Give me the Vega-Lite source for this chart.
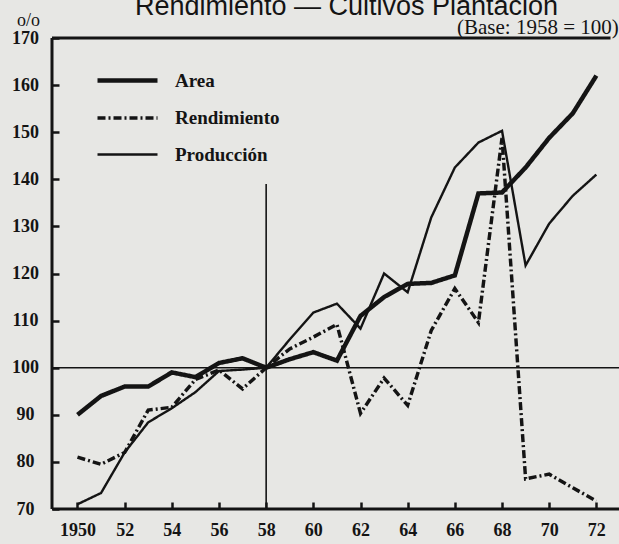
{
  "$schema": "https://vega.github.io/schema/vega-lite/v6.json",
  "width": 567,
  "height": 471,
  "autosize": "none",
  "padding": {"left": 52, "top": 38, "right": 0, "bottom": 35},
  "background": "#e7e7e4",
  "title": {
    "text": "Rendimiento — Cultivos Plantación",
    "font": "Liberation Sans",
    "fontSize": 27,
    "fontWeight": "normal",
    "color": "#141414",
    "anchor": "middle",
    "dx": 11,
    "offset": -10
  },
  "config": {
    "view": {"stroke": null},
    "axis": {
      "domain": false,
      "offset": -7,
      "ticks": true,
      "tickColor": "#141414",
      "tickWidth": 2.5,
      "tickSize": 7,
      "grid": false,
      "labelFont": "Liberation Serif",
      "labelFontWeight": "bold",
      "labelColor": "#141414",
      "labelFontSize": 18,
      "titleFont": "Liberation Serif",
      "titleColor": "#141414"
    },
    "legend": {
      "orient": "none",
      "legendX": 63,
      "legendY": 30,
      "symbolType": "M-3,0H3",
      "symbolSize": 400,
      "symbolStrokeColor": "#141414",
      "labelFont": "Liberation Serif",
      "labelFontSize": 19,
      "labelFontWeight": "bold",
      "labelColor": "#141414",
      "labelOffset": 35,
      "rowPadding": 15,
      "title": null
    }
  },
  "data": {
    "values": [
      {"year": 1950, "series": "Area", "value": 90},
      {"year": 1951, "series": "Area", "value": 94},
      {"year": 1952, "series": "Area", "value": 96},
      {"year": 1953, "series": "Area", "value": 96},
      {"year": 1954, "series": "Area", "value": 99},
      {"year": 1955, "series": "Area", "value": 98},
      {"year": 1956, "series": "Area", "value": 101},
      {"year": 1957, "series": "Area", "value": 102},
      {"year": 1958, "series": "Area", "value": 100},
      {"year": 1959, "series": "Area", "value": 101.8},
      {"year": 1960, "series": "Area", "value": 103.3},
      {"year": 1961, "series": "Area", "value": 101.5},
      {"year": 1962, "series": "Area", "value": 111},
      {"year": 1963, "series": "Area", "value": 115},
      {"year": 1964, "series": "Area", "value": 117.8},
      {"year": 1965, "series": "Area", "value": 118},
      {"year": 1966, "series": "Area", "value": 119.6},
      {"year": 1967, "series": "Area", "value": 137},
      {"year": 1968, "series": "Area", "value": 137.2},
      {"year": 1969, "series": "Area", "value": 142.5},
      {"year": 1970, "series": "Area", "value": 148.8},
      {"year": 1971, "series": "Area", "value": 154},
      {"year": 1972, "series": "Area", "value": 162},
      {"year": 1950, "series": "Rendimiento", "value": 81},
      {"year": 1951, "series": "Rendimiento", "value": 79.5},
      {"year": 1952, "series": "Rendimiento", "value": 82},
      {"year": 1953, "series": "Rendimiento", "value": 91},
      {"year": 1954, "series": "Rendimiento", "value": 91.6},
      {"year": 1955, "series": "Rendimiento", "value": 97.5},
      {"year": 1956, "series": "Rendimiento", "value": 99.5},
      {"year": 1957, "series": "Rendimiento", "value": 95.5},
      {"year": 1958, "series": "Rendimiento", "value": 100},
      {"year": 1959, "series": "Rendimiento", "value": 104},
      {"year": 1960, "series": "Rendimiento", "value": 106.5},
      {"year": 1961, "series": "Rendimiento", "value": 109.2},
      {"year": 1962, "series": "Rendimiento", "value": 90.3},
      {"year": 1963, "series": "Rendimiento", "value": 97.8},
      {"year": 1964, "series": "Rendimiento", "value": 92},
      {"year": 1965, "series": "Rendimiento", "value": 107.9},
      {"year": 1966, "series": "Rendimiento", "value": 116.8},
      {"year": 1967, "series": "Rendimiento", "value": 109.6},
      {"year": 1968, "series": "Rendimiento", "value": 148.8},
      {"year": 1969, "series": "Rendimiento", "value": 76.4},
      {"year": 1970, "series": "Rendimiento", "value": 77.4},
      {"year": 1971, "series": "Rendimiento", "value": 74.5},
      {"year": 1972, "series": "Rendimiento", "value": 71.7},
      {"year": 1950, "series": "Producción", "value": 71},
      {"year": 1951, "series": "Producción", "value": 73.4},
      {"year": 1952, "series": "Producción", "value": 82},
      {"year": 1953, "series": "Producción", "value": 88.4},
      {"year": 1954, "series": "Producción", "value": 91.4},
      {"year": 1955, "series": "Producción", "value": 94.8},
      {"year": 1956, "series": "Producción", "value": 99.3},
      {"year": 1957, "series": "Producción", "value": 99.6},
      {"year": 1958, "series": "Producción", "value": 100},
      {"year": 1959, "series": "Producción", "value": 106},
      {"year": 1960, "series": "Producción", "value": 111.7},
      {"year": 1961, "series": "Producción", "value": 113.6},
      {"year": 1962, "series": "Producción", "value": 108.3},
      {"year": 1963, "series": "Producción", "value": 120},
      {"year": 1964, "series": "Producción", "value": 116},
      {"year": 1965, "series": "Producción", "value": 131.9},
      {"year": 1966, "series": "Producción", "value": 142.5},
      {"year": 1967, "series": "Producción", "value": 147.8},
      {"year": 1968, "series": "Producción", "value": 150.3},
      {"year": 1969, "series": "Producción", "value": 121.7},
      {"year": 1970, "series": "Producción", "value": 130.6},
      {"year": 1971, "series": "Producción", "value": 136.5},
      {"year": 1972, "series": "Producción", "value": 141}
    ]
  },
  "layer": [
    {
      "mark": {"type": "line", "color": "#141414", "strokeJoin": "miter", "strokeCap": "butt"},
      "encoding": {
        "x": {
          "field": "year",
          "type": "quantitative",
          "scale": {"domain": [1948.92, 1972.96], "nice": false, "zero": false},
          "axis": {
            "title": null,
            "values": [1950, 1952, 1954, 1956, 1958, 1960, 1962, 1964, 1966, 1968, 1970, 1972],
            "labelExpr": "datum.value == 1950 ? '1950' : format(datum.value % 100, 'd')",
            "labelBaseline": "alphabetic",
            "labelPadding": 26
          }
        },
        "y": {
          "field": "value",
          "type": "quantitative",
          "scale": {"domain": [70, 170], "nice": false, "zero": false},
          "axis": {
            "title": "o/o",
            "titleAngle": 0,
            "titleX": -31,
            "titleY": -13,
            "titleAlign": "center",
            "titleBaseline": "alphabetic",
            "titleFontSize": 18,
            "titleFontWeight": "normal",
            "values": [70, 80, 90, 100, 110, 120, 130, 140, 150, 160, 170],
            "labelAlign": "center",
            "labelBaseline": "middle",
            "labelPadding": 27,
            "labelFontSize": 18
          }
        },
        "strokeDash": {
          "field": "series",
          "type": "nominal",
          "scale": {"domain": ["Area", "Rendimiento", "Producción"], "range": [[1, 0], [8, 3, 2, 3], [1, 0]]}
        },
        "strokeWidth": {
          "field": "series",
          "type": "nominal",
          "scale": {"domain": ["Area", "Rendimiento", "Producción"], "range": [4.5, 2.4, 1.3]}
        }
      }
    },
    {
      "data": {"values": [{}]},
      "mark": {"type": "rule", "color": "#141414", "strokeWidth": 1.6},
      "encoding": {"y": {"datum": 100}}
    },
    {
      "data": {"values": [{}]},
      "mark": {"type": "rule", "color": "#141414", "strokeWidth": 1.6},
      "encoding": {"x": {"datum": 1958}, "y": {"datum": 70}, "y2": {"datum": 139}}
    },
    {
      "data": {"values": [{}]},
      "mark": {"type": "rule", "color": "#141414", "strokeWidth": 3},
      "encoding": {"y": {"datum": 170}, "x": {"datum": 1948.92}, "x2": {"datum": 1972.6}}
    },
    {
      "data": {"values": [{}]},
      "mark": {"type": "rule", "color": "#141414", "strokeWidth": 3},
      "encoding": {"y": {"datum": 70}}
    },
    {
      "data": {"values": [{}]},
      "mark": {"type": "rule", "color": "#141414", "strokeWidth": 3},
      "encoding": {"x": {"datum": 1948.92}, "y": {"datum": 70}, "y2": {"datum": 170}}
    },
    {
      "data": {"values": [{}]},
      "mark": {"type": "text", "font": "Liberation Serif", "fontSize": 21, "color": "#141414", "align": "right", "baseline": "alphabetic", "dy": -4},
      "encoding": {"x": {"datum": 1972.95}, "y": {"datum": 170}, "text": {"value": "(Base: 1958 = 100)"}}
    }
  ]
}
